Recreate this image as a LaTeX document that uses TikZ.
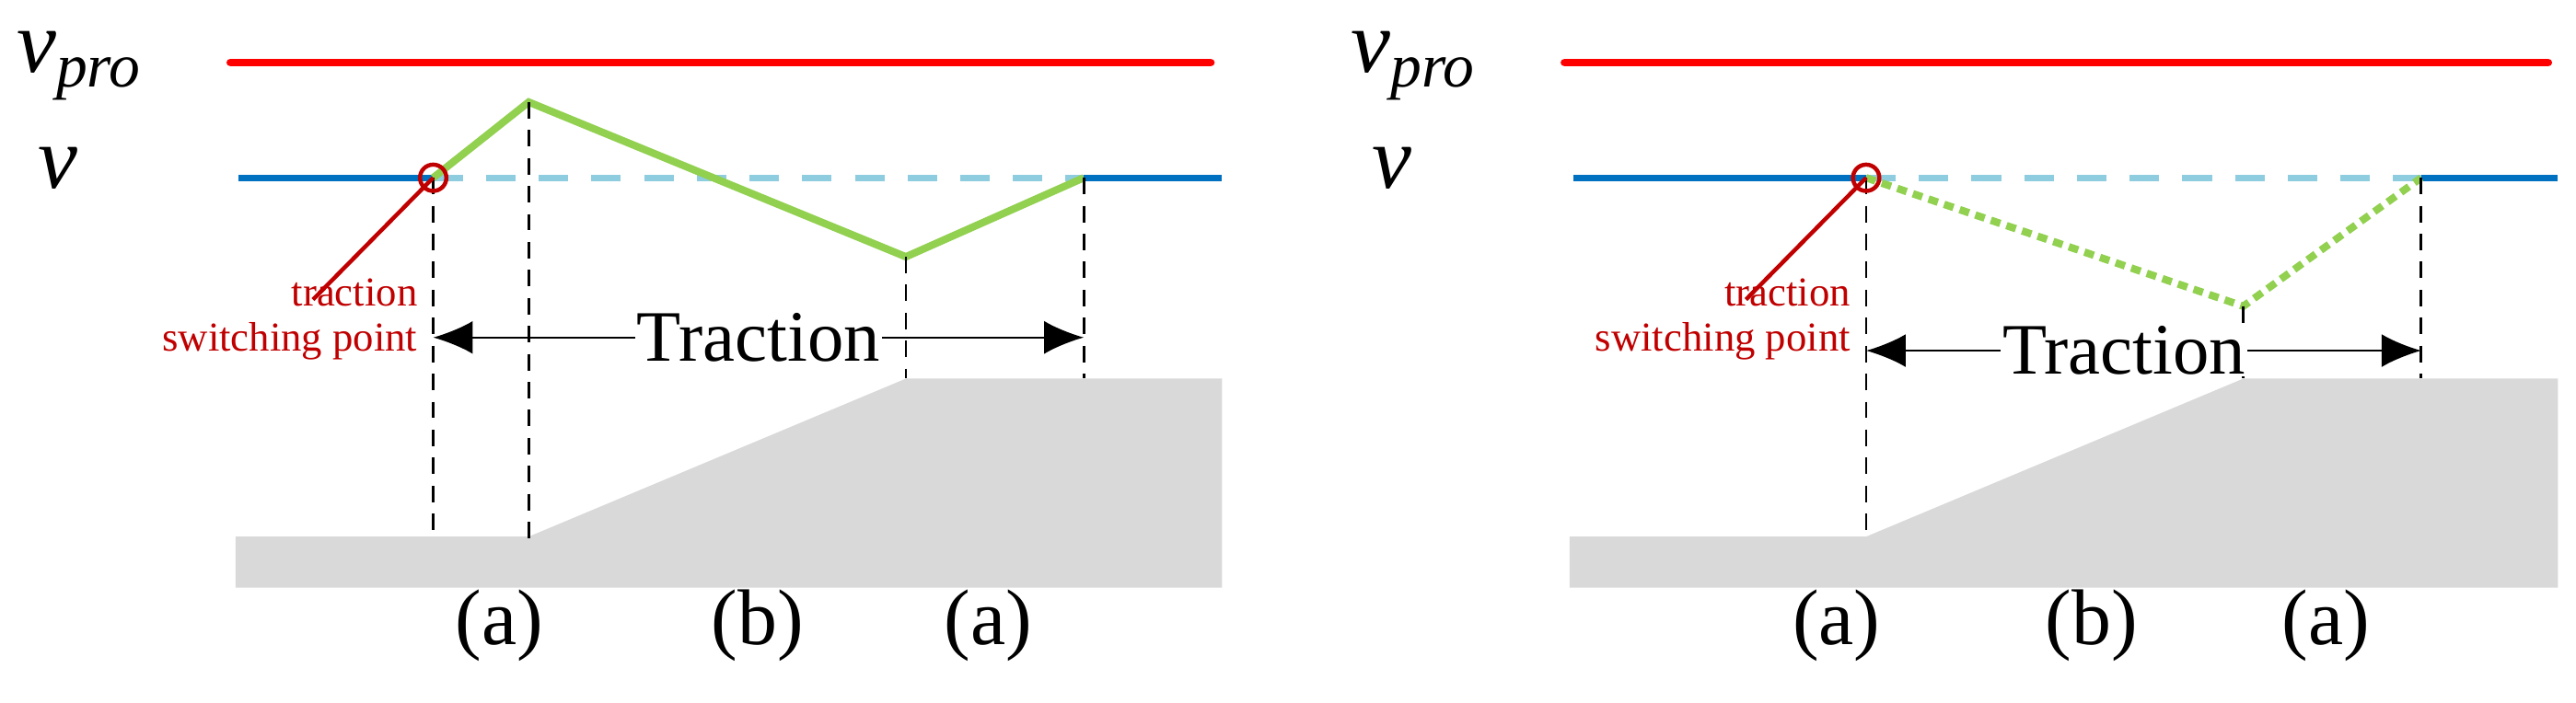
\documentclass[tikz,border=0pt]{standalone}
\usepackage{fontspec}
\setmainfont{Liberation Serif}
\usetikzlibrary{arrows.meta}
\definecolor{limitred}{HTML}{FF0000}
\definecolor{speedblue}{HTML}{0070C0}
\definecolor{targetblue}{HTML}{8ECDE0}
\definecolor{curvegreen}{HTML}{92D050}
\definecolor{notered}{HTML}{C00000}
\tikzset{
  limit/.style={line width=5pt, limitred, line cap=round},
  speed/.style={line width=4pt, speedblue},
  target/.style={line width=4pt, targetblue, dash pattern=on 18pt off 14pt},
  guide/.style={line width=1.6pt, black, dash pattern=on 10pt off 7pt},
  curve/.style={line width=4.5pt, curvegreen},
  hill/.style={fill=gray!30, draw=none},
  tag/.style={font=\fontsize{48}{48}\selectfont},
  sym/.style={font=\fontsize{54}{54}\selectfont\itshape},
  note/.style={font=\fontsize{25}{27}\selectfont, notered, align=right},
  span/.style={{Latex[length=24pt,width=20pt]}-{Latex[length=24pt,width=20pt]}, line width=1.3pt}
}
\begin{document}
\begin{tikzpicture}[x=1pt,y=-1pt]
\useasboundingbox (0,0) rectangle (1564,427);

% -------------------------
% Left panel
% -------------------------
\fill[hill] (143,326) -- (321,326) -- (550,230) -- (742,230) -- (742,357) -- (143,357) -- cycle;
\draw[limit] (140,38) -- (735,38);
\node[sym] (vproL) at (48,40) {v\textsubscript{pro}};
\node[sym] (vL) at (35,102) {v};
\draw[speed] (145,108) -- (263,108);
\draw[speed] (658,108) -- (742,108);
\draw[target] (263,108) -- (658,108);
\coordinate (sL) at (263,108);
\coordinate (pL) at (321,62);
\coordinate (qL) at (550,156);
\coordinate (eL) at (658,108);
\draw[curve] (sL) -- (pL) -- (qL) -- (eL);
\draw[guide] (sL) -- (263,328);
\draw[guide] (pL) -- (321,328);
\draw[guide] (qL) -- (550,230);
\draw[guide] (eL) -- (658,230);
\node[note] (swL) at (176,194) {traction\\switching point};
\coordinate (lnL) at (190,182);
\draw[notered, line width=2.5pt] (lnL) -- (sL);
\draw[notered, line width=2.5pt] (sL) circle (8);
\coordinate (aL) at (263,205);
\coordinate (bL) at (658,205);
\draw[span] (aL) -- node[fill=white, inner sep=1pt, font=\fontsize{44}{44}\selectfont] (trL) {Traction} (bL);
\node[tag] (a1L) at (303,380) {(a)};
\node[tag] (b1L) at (460,380) {(b)};
\node[tag] (a2L) at (600,380) {(a)};

% -------------------------
% Right panel
% -------------------------
\fill[hill] (953,326) -- (1133,326) -- (1362,230) -- (1553,230) -- (1553,357) -- (953,357) -- cycle;
\draw[limit] (950,38) -- (1547,38);
\node[sym] (vproR) at (858,40) {v\textsubscript{pro}};
\node[sym] (vR) at (845,102) {v};
\draw[speed] (955,108) -- (1133,108);
\draw[speed] (1470,108) -- (1553,108);
\draw[target] (1133,108) -- (1470,108);
\coordinate (sR) at (1133,108);
\coordinate (qR) at (1362,186);
\coordinate (eR) at (1470,108);
\draw[curve, dash pattern=on 6pt off 4pt] (sR) -- (qR) -- (eR);
\draw[guide] (sR) -- (1133,328);
\draw[guide] (qR) -- (1362,230);
\draw[guide] (eR) -- (1470,230);
\node[note] (swR) at (1046,194) {traction\\switching point};
\coordinate (lnR) at (1060,182);
\draw[notered, line width=2.5pt] (lnR) -- (sR);
\draw[notered, line width=2.5pt] (sR) circle (8);
\coordinate (aR) at (1133,213);
\coordinate (bR) at (1470,213);
\draw[span] (aR) -- node[fill=white, inner sep=1pt, font=\fontsize{44}{44}\selectfont, xshift=-12pt] (trR) {Traction} (bR);
\node[tag] (a1R) at (1115,380) {(a)};
\node[tag] (b1R) at (1270,380) {(b)};
\node[tag] (a2R) at (1412,380) {(a)};
\end{tikzpicture}
\end{document}
